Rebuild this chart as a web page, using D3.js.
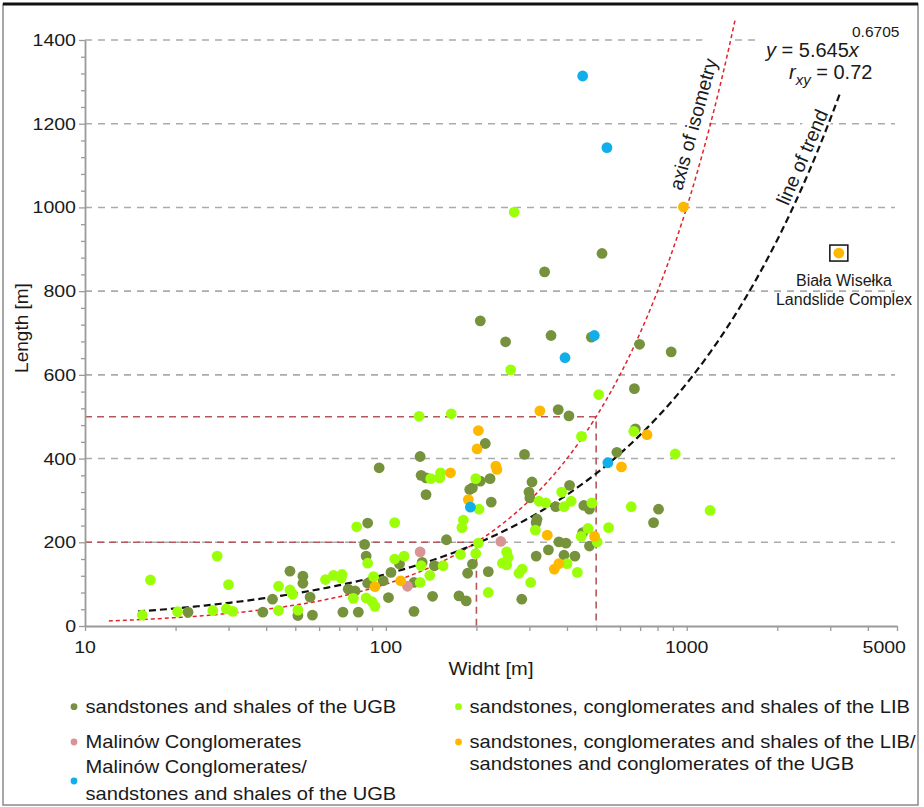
<!DOCTYPE html>
<html><head><meta charset="utf-8">
<script src="https://cdn.jsdelivr.net/npm/d3@7"></script>
<style>
body{margin:0;background:#fff}
svg{display:block}
text{font-family:"Liberation Sans",Arial,Helvetica,sans-serif}
</style>
</head><body>
<svg id="c" width="924" height="807"></svg>
<script>
// ---------- DATA (width [m], length [m]) ----------
const ugb = [
[95,378],[87,246],[85,195],[86,167],[111,148],[48,131],[53,119],[53,102],[42,64],[56,69],[75,88],[79,84],[87,102],[98,108],[104,128],[102,68],[72,33],[81,33],[22,33],[39,33],[51,25],[57,26],
[214,436],[130,405],[131,360],[136,354],[136,314],[289,410],[194,330],[190,326],[206,346],[222,352],[224,296],[306,344],[299,320],[301,306],[367,285],[408,336],[455,288],[475,279],[806,279],[776,247],[451,223],[475,191],[318,255],[316,247],[376,201],[397,198],[347,182],[391,169],[425,167],[316,167],[283,64],[219,130],[194,148],[187,126],[159,206],[132,152],[145,144],[124,104],[124,35],[143,71],[175,72],[185,60],[675,471],[586,415],
[523,890],[337,846],[206,729],[250,679],[354,694],[482,690],[697,673],[888,655],[670,567],[374,517],[406,502]
];
const lib = [
[80,237],[107,247],[87,150],[107,160],[27.5,167],[16.5,110],[30,99],[44,95],[48,86],[49,76],[63,111],[67,121],[71.5,123],[71,114],[78,66],[91,118],[86,67],[90,58],[92,47],[15.5,26],[20.3,34],[26.6,37],[29.5,41],[31,35],[44,37],[51,38],
[141,352],[152,366],[151,354],[199,352],[204,279],[323,298],[340,294],[384,320],[391,285],[413,298],[484,294],[654,285],[550,235],[470,233],[446,214],[504,201],[314,229],[400,149],[433,128],[252,177],[255,164],[244,150],[252,146],[284,136],[277,126],[303,104],[219,80],[199,173],[203,198],[181,253],[179,235],[177,171],[131,144],[155,144],[140,121],[130,104],[115,167],[447,453],[667,465],[916,411],
[260,612],[510,553],[129,501],[165,507],[267,989],[1196,276]
];
const malinow = [[241,202],[130,177],[118,95]];
const libUgb = [[203,467],[201,423],[164,366],[232,382],[234,374],[188,302],[344,217],[494,214],[376,149],[363,136],[112,108],[92,94],[738,457],[607,380],[325,514],[975,1001]];
const malinowUgb = [[191,284],[547,390],[493,694],[394,641],[451,1314],[543,1143]];
const bialaWiselka = [[3204,891]];

const xTickLabels = [10,100,1000,5000];
const xMinorTicks = [20,30,40,50,60,70,80,90,200,300,400,500,600,700,800,900,2000,3000,4000];
const yTickLabels = [0,200,400,600,800,1000,1200,1400];
const refLevels = [200,500];
const trendA = 5.645, trendB = 0.6705, trendRange = [15,3250];
const isoRange = [12,1450];

const colors = {ugb:"#76923c", lib:"#9cff0a", malinow:"#d99594", libUgb:"#ffb800", malinowUgb:"#12aeea"};

// ---------- SCALES ----------
const svg = d3.select("#c");
const x = d3.scaleLog().domain([10,5000]).range([85,897]);
const y = d3.scaleLinear().domain([0,1400]).range([626,40]);
const SX = 1.15;
function stext(g,px,py,str,size,anchor){
  return g.append("text").attr("transform",`translate(${px},${py}) scale(${SX},1)`)
    .attr("text-anchor",anchor||"start").attr("font-size",size).attr("fill","#1a1a1a").text(str);
}

// frame
svg.append("rect").attr("x",3).attr("y",4).attr("width",915).attr("height",801)
  .attr("fill","#fff").attr("stroke","#8a8a8a").attr("stroke-width",1.5);
svg.append("line").attr("x1",3).attr("x2",918).attr("y1",4).attr("y2",4).attr("stroke","#111").attr("stroke-width",3);

// gridlines
svg.append("g").selectAll("line").data(yTickLabels.filter(v=>v>0)).join("line")
  .attr("x1",x(10)).attr("x2",x.range()[1]-2).attr("y1",d=>y(d)).attr("y2",d=>y(d))
  .attr("stroke","#ababab").attr("stroke-width",1.6).attr("stroke-dasharray","7,6");

// reference dashed lines (200 and 500)
svg.append("g").selectAll("path").data(refLevels).join("path")
  .attr("d",d=>`M${x(10)},${y(d)}H${x(d)}V${y(0)}`)
  .attr("fill","none").attr("stroke","#b5575a").attr("stroke-width",1.6).attr("stroke-dasharray","7,5");

// white backgrounds behind labels
const isoLbl = {cx:693, cy:124, ang:-74.8};
const trLbl = {cx:802, cy:157, ang:-66.6};
svg.append("rect").attr("x",-78).attr("y",-13).attr("width",180).attr("height",26).attr("fill","#fff")
  .attr("transform",`translate(${isoLbl.cx},${isoLbl.cy}) rotate(${isoLbl.ang})`);
svg.append("rect").attr("x",-62).attr("y",-13).attr("width",124).attr("height",26).attr("fill","#fff")
  .attr("transform",`translate(${trLbl.cx},${trLbl.cy}) rotate(${trLbl.ang})`);
svg.append("rect").attr("x",757).attr("y",18).attr("width",150).attr("height",72).attr("fill","#fff");

// curves
const line = d3.line().x(d=>x(d[0])).y(d=>y(d[1]));
const isoPts = d3.range(0,201).map(i=>{const v=isoRange[0]*Math.pow(isoRange[1]/isoRange[0],i/200);return [v,v];});
const trPts = d3.range(0,201).map(i=>{const v=trendRange[0]*Math.pow(trendRange[1]/trendRange[0],i/200);return [v,trendA*Math.pow(v,trendB)];});
svg.append("path").attr("d",line(isoPts)).attr("fill","none").attr("stroke","#e0242a").attr("stroke-width",1.5).attr("stroke-dasharray","4,3");
svg.append("path").attr("d",line(trPts)).attr("fill","none").attr("stroke","#111").attr("stroke-width",2.2).attr("stroke-dasharray","7,4");

// axes
const axCol = "#9a9a9a";
const xAx = svg.append("g").attr("transform",`translate(0,${y(0)})`)
  .call(d3.axisBottom(x).tickValues(xTickLabels.concat(xMinorTicks)).tickSize(5).tickSizeOuter(0).tickFormat(""));
const yAx = svg.append("g").attr("transform",`translate(${x(10)},0)`)
  .call(d3.axisLeft(y).tickValues(d3.range(0,1401,40)).tickSize(4).tickSizeOuter(0).tickFormat(""));
[xAx,yAx].forEach(a=>{a.select(".domain").attr("stroke",axCol).attr("stroke-width",1.8);a.selectAll(".tick line").attr("stroke",axCol).attr("stroke-width",1.3);});
yAx.selectAll(".tick").filter(d=>d%200===0).select("line").attr("x2",-6);

const lab = svg.append("g");
yTickLabels.forEach(v=>stext(lab,76,y(v)+6,String(v),17,"end"));
xTickLabels.forEach((v,i)=>{
  const last = i===xTickLabels.length-1;
  stext(lab,last?906:x(v),653,String(v),17,last?"end":"middle");
});
stext(lab,491,675,"Widht [m]",17.5,"middle");
lab.append("text").attr("transform","translate(28,328) rotate(-90)").attr("text-anchor","middle")
  .attr("font-size",19).attr("fill","#1a1a1a").text("Length [m]");

// rotated curve labels
lab.append("text").attr("transform",`translate(${isoLbl.cx},${isoLbl.cy}) rotate(${isoLbl.ang})`)
  .attr("text-anchor","middle").attr("dominant-baseline","central").attr("font-size",19.5).attr("fill","#1a1a1a").text("axis of isometry");
lab.append("text").attr("transform",`translate(${trLbl.cx},${trLbl.cy}) rotate(${trLbl.ang})`)
  .attr("text-anchor","middle").attr("dominant-baseline","central").attr("font-size",19.5).attr("fill","#1a1a1a").text("line of trend");

// equation
const eq = lab.append("text").attr("x",766).attr("y",57).attr("font-size",20).attr("fill","#1a1a1a");
eq.append("tspan").attr("font-style","italic").text("y");
eq.append("tspan").text(" = 5.645");
eq.append("tspan").attr("font-style","italic").text("x");
lab.append("text").attr("x",852).attr("y",37).attr("font-size",15.5).attr("fill","#1a1a1a").text(trendB.toString());
const rx = lab.append("text").attr("x",789).attr("y",78.5).attr("font-size",20).attr("fill","#1a1a1a");
rx.append("tspan").attr("font-style","italic").text("r");
rx.append("tspan").attr("font-style","italic").attr("font-size",15).attr("dy",6).text("xy");
rx.append("tspan").attr("dy",-6).text(" = 0.72");

// points
const series = [[ugb,colors.ugb],[lib,colors.lib],[malinow,colors.malinow],[libUgb,colors.libUgb],[malinowUgb,colors.malinowUgb],[bialaWiselka,colors.libUgb]];
const pts = svg.append("g");
series.forEach(([arr,col])=>{
  pts.append("g").selectAll("circle").data(arr).join("circle")
    .attr("cx",d=>x(d[0])).attr("cy",d=>y(d[1])).attr("r",5.4).attr("fill",col);
});
// Biała Wisełka box + label
const bw = bialaWiselka[0];
svg.append("rect").attr("x",x(bw[0])-9).attr("y",y(bw[1])-8).attr("width",18).attr("height",16)
  .attr("fill","none").attr("stroke","#111").attr("stroke-width",1.5);
lab.append("text").attr("x",844).attr("y",285.5).attr("text-anchor","middle").attr("font-size",16).attr("fill","#1a1a1a").text("Biała Wisełka");
lab.append("text").attr("x",844).attr("y",304.5).attr("text-anchor","middle").attr("font-size",16).attr("fill","#1a1a1a").text("Landslide Complex");

// legend
const legend = [
  {col:colors.ugb, lines:["sandstones and shales of the UGB"], dx:74, dy:706.7, tx:85.5, ty:[712.5]},
  {col:colors.malinow, lines:["Malinów Conglomerates"], dx:74, dy:742, tx:85.5, ty:[747.5]},
  {col:colors.malinowUgb, lines:["Malinów Conglomerates/","sandstones and shales of the UGB"], dx:74, dy:781, tx:85.5, ty:[773,800]},
  {col:colors.lib, lines:["sandstones, conglomerates and shales of the LIB"], dx:458.5, dy:706.7, tx:469.5, ty:[712.5]},
  {col:colors.libUgb, lines:["sandstones, conglomerates and shales of the LIB/","sandstones and conglomerates of the UGB"], dx:458.5, dy:742, tx:469.5, ty:[747.5,769.5]}
];
const lg = svg.append("g");
legend.forEach(it=>{
  lg.append("circle").attr("cx",it.dx).attr("cy",it.dy).attr("r",3.4).attr("fill",it.col);
  it.lines.forEach((s,i)=>stext(lg,it.tx,it.ty[i],s,17.5,"start"));
});
</script>
</body></html>
